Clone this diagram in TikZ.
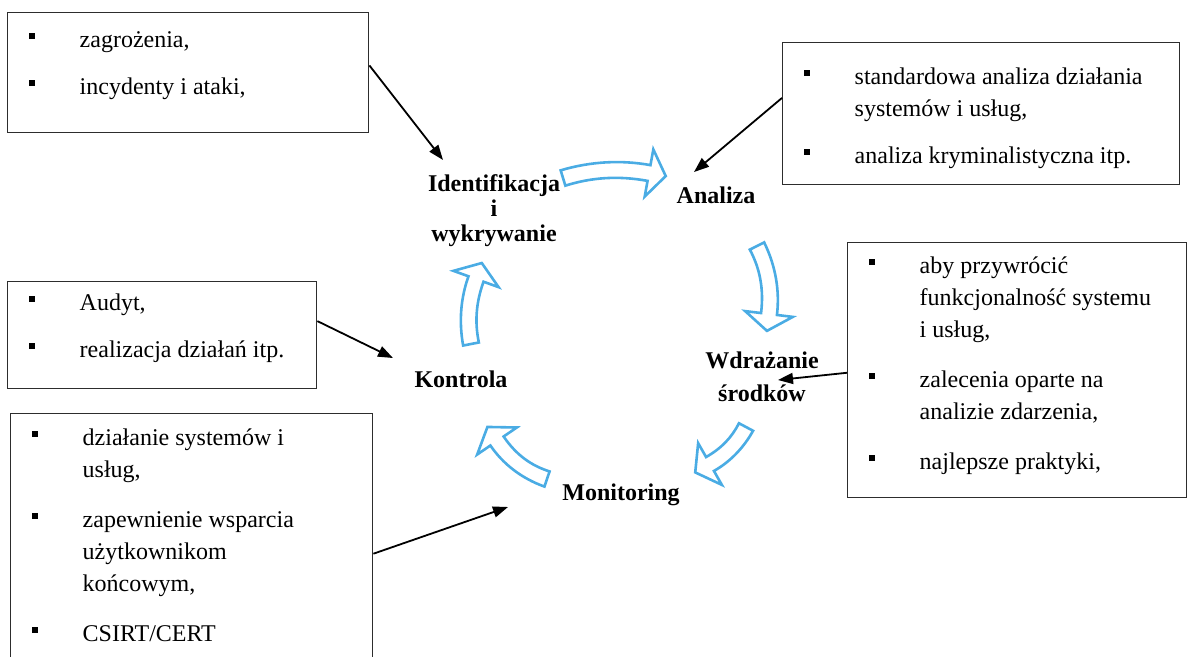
\documentclass[tikz,border=0pt]{standalone}
\usepackage{fontspec}
\setmainfont{Liberation Serif}
\usetikzlibrary{calc,arrows.meta}

\definecolor{cycleblue}{RGB}{74,172,228}
\definecolor{boxline}{RGB}{45,45,45}

% bullet list inside the side boxes
\newlength{\bulind}\setlength{\bulind}{21pt}
\newlength{\txtind}\setlength{\txtind}{72pt}
\newcommand{\bitem}[1]{\par\hangindent=\txtind\hangafter=1\noindent
  \hspace*{\bulind}\makebox[\dimexpr\txtind-\bulind\relax][l]{\rule[8.5pt]{6pt}{6pt}}\strut#1\par}

% #1 name, #2 x, #3 y (top left), #4 width, #5 height,
% #6 first baseline below top, #7 gap between items, #8 items
\newcommand{\infobox}[8]{%
  \node[infobox, anchor=north west] (#1) at (#2,#3)
    {\parbox[t][#5pt][t]{#4pt}{\fontsize{24}{32}\selectfont
      \setlength{\parskip}{#7pt}%
      \vspace*{\dimexpr#6pt-22.4pt-#7pt\relax}#8}};}

% hollow curved block arrow of the cycle:
% #1 tail centre, #2 centre of the head base, #3 bend (to the left of travel)
\newcommand{\shafthw}{8pt}
\newcommand{\headhw}{24pt}
\newcommand{\headlen}{17pt}
\newcommand{\cyclearrow}[3]{%
  \coordinate (ca-t) at #1;
  \coordinate (ca-b) at #2;
  \coordinate (ca-p1) at ($(ca-t)!1/3!(ca-b)$);
  \coordinate (ca-p2) at ($(ca-t)!2/3!(ca-b)$);
  \coordinate (ca-c1) at ($(ca-p1)!#3!90:(ca-b)$);
  \coordinate (ca-c2) at ($(ca-p2)!#3!90:(ca-b)$);
  \coordinate (ca-h) at ($(ca-b)!-\headlen!(ca-c2)$);
  \draw[cyc]
    ($(ca-t)!\shafthw!90:(ca-c1)$)
      .. controls ($(ca-c1)!\shafthw!90:(ca-c2)$) and ($(ca-c2)!\shafthw!90:(ca-b)$)
      .. ($(ca-b)!\shafthw!90:(ca-h)$)
    -- ($(ca-b)!\headhw!90:(ca-h)$)
    -- (ca-h)
    -- ($(ca-b)!\headhw!-90:(ca-h)$)
    -- ($(ca-b)!\shafthw!-90:(ca-h)$)
      .. controls ($(ca-c2)!\shafthw!-90:(ca-b)$) and ($(ca-c1)!\shafthw!-90:(ca-c2)$)
      .. ($(ca-t)!\shafthw!-90:(ca-c1)$)
    -- cycle;}

\begin{document}
\begin{tikzpicture}[x=1pt, y=-1pt,
  infobox/.style={draw=boxline, line width=1.4pt, inner sep=0pt},
  stage/.style={inner sep=0pt, font=\fontsize{24}{25}\selectfont\bfseries},
  conn/.style={draw=black, line width=1.8pt, -{Triangle[length=15pt,width=11pt]}},
  cyc/.style={draw=cycleblue, line width=2.6pt, fill=white, line join=miter}]

\useasboundingbox (0,0) rectangle (1190,656);
\clip (0,0) rectangle (1190,656);

% side boxes
\infobox{box1}{7}{12}{361}{120}{35}{15}{%
  \bitem{zagrożenia,}\bitem{incydenty i ataki,}}
\infobox{box2}{782}{42}{397}{142}{42}{15}{%
  \bitem{standardowa analiza działania\\systemów i usług,}
  \bitem{analiza kryminalistyczna itp.}}
\infobox{box3}{7}{281}{309}{107}{29}{15}{%
  \bitem{Audyt,}\bitem{realizacja działań itp.}}
\infobox{box4}{10}{413}{362}{280}{32}{18}{%
  \bitem{działanie systemów i\\usług,}
  \bitem{zapewnienie wsparcia\\użytkownikom\\końcowym,}
  \bitem{CSIRT/CERT}}
\infobox{box5}{847}{242}{339}{255}{31}{18}{%
  \bitem{aby przywrócić\\funkcjonalność systemu\\i usług,}
  \bitem{zalecenia oparte na\\analizie zdarzenia,}
  \bitem{najlepsze praktyki,}}

% stages of the cycle
\node[stage, align=center, anchor=north] (ident) at (494,174)
  {Identifikacja\\i\\wykrywanie};
\node[stage, anchor=base] (anal) at (716,203) {Analiza};
\node[stage, align=center, anchor=north, font=\fontsize{24}{33}\selectfont\bfseries]
  (wdr) at (762,351.5) {Wdrażanie\\środków};
\node[stage, anchor=base] (mon) at (621,500) {Monitoring};
\node[stage, anchor=base] (kontr) at (461,387) {Kontrola};

% cycle arrows
\cyclearrow{(563,178)}{(649,173)}{7pt}
\cyclearrow{(757,246)}{(769,314)}{7pt}
\cyclearrow{(746,427)}{(710,464)}{5pt}
\cyclearrow{(547,479)}{(497,441)}{7pt}
\cyclearrow{(471,344)}{(476,279)}{6pt}

% inputs from the side boxes
\coordinate (in-ident) at (443,160);
\coordinate (in-anal) at (694,172);
\coordinate (in-wdr) at (778,380);
\coordinate (in-mon) at (508,507);
\coordinate (in-kontr) at (393,358);

\draw[conn] ($(box1.north east)!0.44!(box1.south east)$) -- (in-ident);
\draw[conn] ($(box2.north west)!0.39!(box2.south west)$) -- (in-anal);
\draw[conn] ($(box5.north west)!0.51!(box5.south west)$) -- (in-wdr);
\draw[conn] ($(box4.north east)!0.5!(box4.south east)$) -- (in-mon);
\draw[conn] ($(box3.north east)!0.37!(box3.south east)$) -- (in-kontr);

\end{tikzpicture}
\end{document}
